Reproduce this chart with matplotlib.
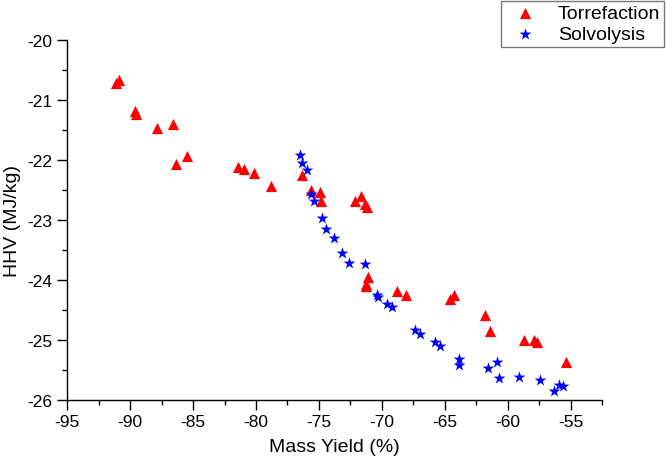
import numpy as np
import matplotlib.pyplot as plt
from matplotlib.ticker import MultipleLocator

plt.rcParams['font.family'] = ['Liberation Sans', 'DejaVu Sans']
plt.rcParams['axes.unicode_minus'] = False

# Torrefaction: mass yield (%) and HHV (MJ/kg)
torr_x = [-91.13, -90.86, -89.59, -89.53, -87.86, -86.61, -86.33, -85.48,
          -81.40, -80.92, -80.20, -78.82, -76.38, -75.67, -74.95, -74.82,
          -72.14, -71.66, -71.35, -71.18, -71.08, -71.24, -71.29, -68.80,
          -68.08, -64.61, -64.24, -61.77, -61.37, -58.67, -57.93, -57.71,
          -55.35]
torr_y = [-20.72, -20.67, -21.19, -21.24, -21.47, -21.40, -22.07, -21.93,
          -22.12, -22.16, -22.22, -22.44, -22.26, -22.50, -22.54, -22.68,
          -22.68, -22.60, -22.74, -22.78, -23.95, -24.07, -24.10, -24.19,
          -24.25, -24.32, -24.26, -24.58, -24.86, -25.01, -25.00, -25.03,
          -25.37]

# Solvolysis
solv_x = [-76.49, -76.36, -75.97, -75.61, -75.41, -74.78, -74.40, -73.84,
          -73.17, -72.61, -71.37, -70.42, -70.31, -69.59, -69.22, -67.40,
          -66.94, -65.77, -65.35, -63.86, -63.84, -61.59, -60.84, -60.66,
          -59.07, -57.47, -56.34, -55.91, -55.62]
solv_y = [-21.92, -22.05, -22.17, -22.57, -22.68, -22.97, -23.15, -23.30,
          -23.56, -23.72, -23.74, -24.26, -24.29, -24.41, -24.45, -24.84,
          -24.90, -25.04, -25.10, -25.33, -25.42, -25.47, -25.37, -25.64,
          -25.63, -25.67, -25.86, -25.75, -25.78]

fig = plt.figure(figsize=(6.66, 4.6), dpi=100)
ax = fig.add_axes([0.101, 0.129, 0.803, 0.782])

ax.scatter(torr_x, torr_y, marker='^', s=65, color='#ff0000', linewidths=0,
           label='Torrefaction')
ax.scatter(solv_x, solv_y, marker='*', s=80, color='#0000ff', linewidths=0,
           label='Solvolysis')

ax.set_xlim(-95, -52.5)
ax.set_ylim(-26, -20)
ax.xaxis.set_major_locator(MultipleLocator(5))
ax.xaxis.set_minor_locator(MultipleLocator(2.5))
ax.yaxis.set_major_locator(MultipleLocator(1))
ax.yaxis.set_minor_locator(MultipleLocator(0.5))

for side in ['top', 'right']:
    ax.spines[side].set_visible(False)
for side in ['left', 'bottom']:
    ax.spines[side].set_linewidth(1.0)

ax.tick_params(which='major', direction='out', length=7, width=1,
               labelsize=12.5, colors='black')
ax.tick_params(which='minor', direction='out', length=3.5, width=1)

ax.set_xlabel('Mass Yield (%)', fontsize=14, labelpad=6)
ax.set_ylabel('HHV (MJ/kg)', fontsize=14, labelpad=5)

leg = fig.legend(loc='upper right', bbox_to_anchor=(0.997, 0.996),
                 fontsize=14, frameon=True, fancybox=False,
                 handletextpad=0.7, borderpad=0.2, labelspacing=0.15,
                 scatterpoints=1, borderaxespad=0)
leg.get_frame().set_edgecolor('#555555')
leg.get_frame().set_linewidth(1.0)

fig.savefig('out.png', dpi=100)
